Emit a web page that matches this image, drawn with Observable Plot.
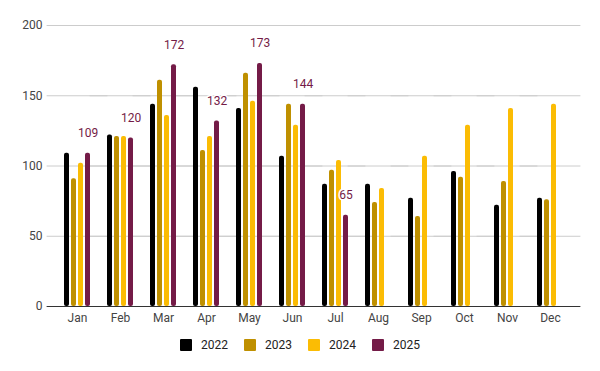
<!DOCTYPE html>
<html>
<head>
<meta charset="utf-8">
<script src="https://cdn.jsdelivr.net/npm/d3@7"></script>
<script src="https://cdn.jsdelivr.net/npm/@observablehq/plot@0.6"></script>
<style>
  body { margin: 0; background: #fff; font-family: Roboto, Arial, sans-serif; }
  #chart { width: 600px; }
  .legend { display: flex; justify-content: center; align-items: center; height: 24px; font-size: 12px; color: #222; }
  .legend .item { display: flex; align-items: center; margin: 0 8px; }
  .legend .sw { width: 12px; height: 12px; margin-right: 9px; border-radius: 1px; }
</style>
</head>
<body>
<div id="chart"></div>
<script>
const months = ["Jan","Feb","Mar","Apr","May","Jun","Jul","Aug","Sep","Oct","Nov","Dec"];
const years = ["2022","2023","2024","2025"];
const colors = ["#000000","#bf9000","#fbbc04","#741b47"];
const v2022 = [109,122,144,156,141,107,87,87,77,96,72,77];
const v2023 = [91,121,161,111,166,144,97,74,64,92,89,76];
const v2024 = [102,121,136,121,146,129,104,84,107,129,141,144];
const v2025 = [109,120,172,132,173,144,65];
const yTicks = [0,50,100,150,200];

const series = [v2022, v2023, v2024, v2025];
const rows = [];
series.forEach((vals, k) => vals.forEach((v, i) => rows.push({month: months[i], year: years[k], value: v})));
const labelRows = rows.filter(d => d.year === "2025");

const gridInset = -17.4;
const chart = Plot.plot({
  width: 600,
  height: 333,
  marginLeft: 44,
  marginRight: 18,
  marginTop: 25,
  marginBottom: 27,
  style: {fontFamily: "Roboto, Arial, sans-serif", fontSize: "12px", color: "#444", background: "#fff"},
  fx: {domain: months, paddingInner: 0.4, paddingOuter: 0.4, label: null, axis: "bottom", tickSize: 0, tickPadding: 7},
  x: {domain: years, paddingInner: 0.34, paddingOuter: 0, axis: null},
  y: {domain: [0, 200], ticks: yTicks, tickSize: 0, tickPadding: 22, label: null},
  color: {domain: years, range: colors},
  marks: [
    Plot.ruleY(yTicks.filter(t => t > 0), {y: d => d, stroke: "#cccccc", insetLeft: gridInset, insetRight: gridInset}),
    Plot.barY(rows, {fx: "month", x: "year", y: "value", fill: "year", rx: 2}),
    Plot.ruleY([0], {stroke: "#333333", insetLeft: gridInset, insetRight: gridInset}),
    Plot.text(labelRows, {fx: "month", x: "year", y: "value", text: d => String(d.value), dy: -20,
      fill: "#741b47", stroke: "white", strokeWidth: 3, fontSize: 12})
  ]
});
document.getElementById("chart").appendChild(chart);

const legend = document.createElement("div");
legend.className = "legend";
years.forEach((y, k) => {
  const item = document.createElement("div");
  item.className = "item";
  const sw = document.createElement("div");
  sw.className = "sw";
  sw.style.background = colors[k];
  const t = document.createElement("span");
  t.textContent = y;
  item.appendChild(sw);
  item.appendChild(t);
  legend.appendChild(item);
});
document.getElementById("chart").appendChild(legend);
</script>
</body>
</html>
